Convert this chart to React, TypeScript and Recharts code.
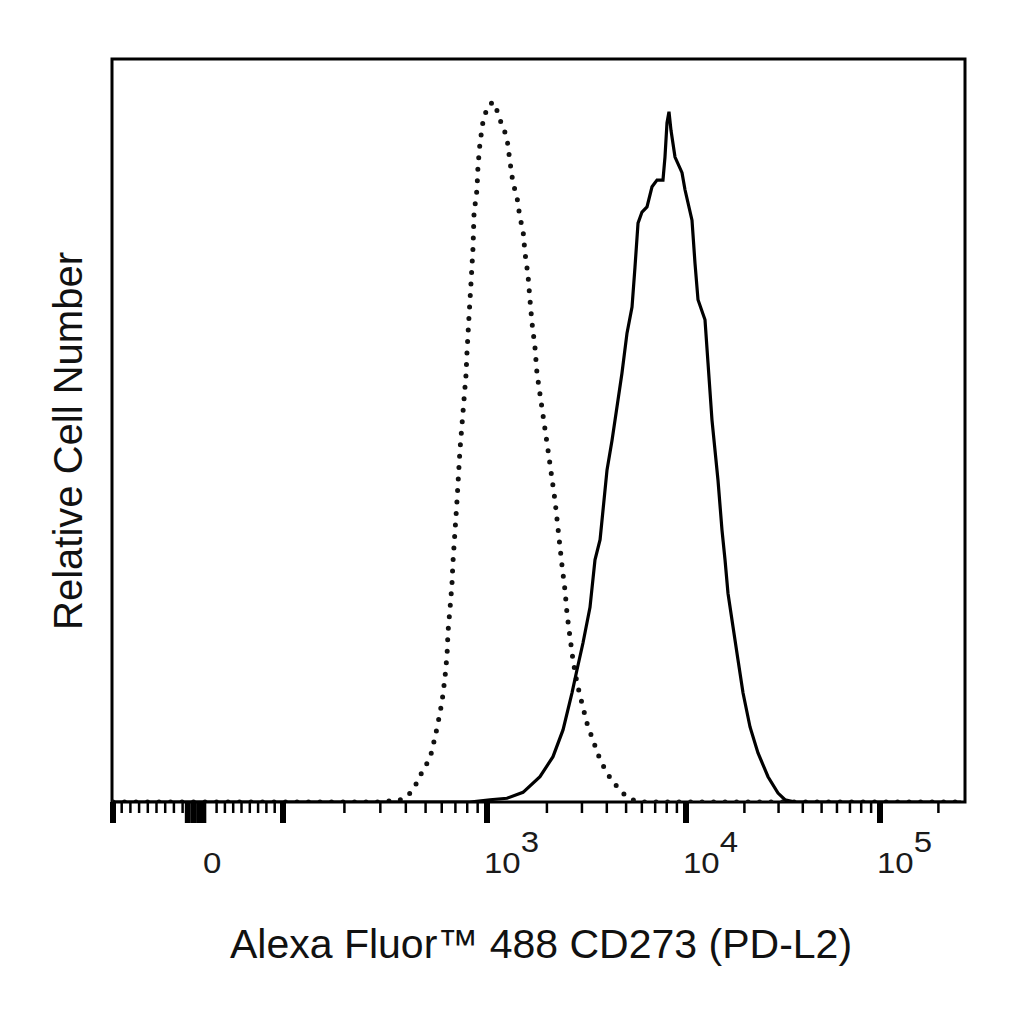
import React from "react"
import { LineChart, Line, XAxis, YAxis, ReferenceArea } from "recharts"

// ── Data ─────────────────────────────────────────────────────────────────────
// x values are fluorescence intensities, y is relative cell number (% of max)

const ISOTYPE_VALUE = [
  -100, 299, 374, 396, 434, 486, 526, 556, 575, 602,
  622, 637, 644, 659, 673, 681, 713, 737, 789, 798,
  816, 835, 854, 864, 893, 903, 924, 955, 1000, 1035,
  1097, 1136, 1204, 1260, 1305, 1351, 1415, 1465, 1517, 1552,
  1607, 1644, 1683, 1742, 1783, 2025, 2196, 2380, 2466, 2523,
  2612, 2705, 2833, 3000, 3180, 3410, 3700, 4010, 4300, 4660,
  5110, 5870, 262144,
]
const ISOTYPE_COUNT = [
  0, 0, 0.3, 0.5, 1.6, 4.3, 5.9, 8.7, 10.6, 13.5,
  16.7, 19.8, 22.9, 26.1, 29.2, 32.3, 40.6, 47.4, 57.5, 60.6,
  65.3, 69.9, 74.6, 79.3, 82.4, 85.5, 88.7, 91.5, 93.4, 94.0,
  94.1, 92.5, 90.8, 89.4, 86.1, 83.3, 81.4, 78.6, 77.0, 73.9,
  70.9, 67.6, 64.5, 61.2, 57.7, 47.4, 40.6, 31.9, 28.5, 25.4,
  22.2, 19.1, 16.0, 13.3, 10.6, 8.3, 5.7, 3.9, 2.7, 1.6,
  0.5, 0, 0,
]

const CD273_VALUE = [
  -100, 825, 1035, 1260, 1517, 1846, 2146, 2410, 2674, 2833,
  3036, 3293, 3489, 3700, 4010, 4250, 4553, 4766, 5053, 5355,
  5542, 5740, 6010, 6368, 6748, 7150, 7661, 7841, 8025, 8213,
  8406, 8805, 9548, 9886, 10737, 11128, 11531, 12530, 12984, 13614,
  14620, 15330, 15890, 16460, 17470, 18540, 19670, 21380, 23500, 26470,
  29800, 32380, 36460, 262144,
]
const CD273_COUNT = [
  0, 0, 0.3, 0.5, 1.3, 3.4, 6.1, 9.7, 14.7, 17.8,
  21.4, 26.2, 32.6, 35.3, 44.7, 48.7, 54.1, 57.7, 63.1, 66.6,
  72.0, 77.9, 79.4, 80.1, 82.8, 83.7, 83.7, 86.8, 91.4, 92.9,
  90.4, 86.8, 84.7, 82.4, 78.3, 72.5, 67.6, 64.9, 59.1, 51.4,
  43.3, 36.6, 32.6, 28.1, 23.6, 19.1, 14.7, 10.1, 6.6, 3.4,
  1.2, 0.3, 0, 0,
]

// ── Biexponential-ish display transform (linear near 0, log above 100) ─────

const BIEX_VALUE = [-100, 0, 100, 1000, 10000, 100000, 1000000]
const BIEX_UNIT = [0, 87, 170, 374, 573, 767, 961]

function biex(v: number): number {
  let i = 0
  while (i < BIEX_VALUE.length - 2 && v > BIEX_VALUE[i + 1]) i++
  const a = BIEX_VALUE[i]
  const b = BIEX_VALUE[i + 1]
  const t = a >= 100 ? Math.log(v / a) / Math.log(b / a) : (v - a) / (b - a)
  return BIEX_UNIT[i] + t * (BIEX_UNIT[i + 1] - BIEX_UNIT[i])
}

const X_DOMAIN = [-1, 852]

// ── Ticks ───────────────────────────────────────────────────────────────────

const MAJOR_TICKS = [-100, -14, -7, 0, 4, 100, 1000, 10000, 100000]
const MINOR_TICKS = [
  -90, -80, -70, -60, -50, -40, -30, -20,
  20, 30, 40, 50, 60, 70, 80, 90,
  200, 300, 400, 500, 600, 700, 800, 900,
  2000, 3000, 4000, 5000, 6000, 7000, 8000, 9000,
  20000, 30000, 40000, 50000, 60000, 70000, 80000, 90000,
  200000,
]
const LABEL_TICKS = [0, 1000, 10000, 100000]
const LABEL_TEXT = ["0", "3", "4", "5"]

type TickDef = { value: number; kind: "major" | "minor" | "label"; label?: string }

const TICKS: TickDef[] = [
  ...MAJOR_TICKS.map((v) => ({ value: v, kind: "major" as const })),
  ...MINOR_TICKS.map((v) => ({ value: v, kind: "minor" as const })),
  ...LABEL_TICKS.map((v, i) => ({ value: v, kind: "label" as const, label: LABEL_TEXT[i] })),
]

const FONT = "'Liberation Sans', Arial, Helvetica, sans-serif"

function BiexTick(props: any) {
  const { x, y, index } = props
  const t = TICKS[index]
  if (!t) return null
  if (t.kind === "major") {
    return <line x1={x} x2={x} y1={y} y2={y + 21} stroke="#000" strokeWidth={6} />
  }
  if (t.kind === "minor") {
    return <line x1={x} x2={x} y1={y} y2={y + 11} stroke="#000" strokeWidth={2.5} />
  }
  if (t.label === "0") {
    return (
      <g transform={`translate(${x + 3},${y + 71}) scale(1.1,1)`}>
        <text fontFamily={FONT} fontSize={30} fill="#1a1a1a">0</text>
      </g>
    )
  }
  return (
    <g transform={`translate(${x - 3},${y + 71}) scale(1.1,1)`}>
      <text fontFamily={FONT} fontSize={30} fill="#1a1a1a">
        10<tspan dy={-21}>{t.label}</tspan>
      </text>
    </g>
  )
}

const isotypeData = ISOTYPE_VALUE.map((v, i) => ({ x: biex(v), count: ISOTYPE_COUNT[i] }))
const cd273Data = CD273_VALUE.map((v, i) => ({ x: biex(v), count: CD273_COUNT[i] }))

export default function App() {
  return (
    <div style={{ position: "absolute", left: 0, top: 0, width: 1024, height: 1024, background: "#fff" }}>
      <LineChart
        width={1024}
        height={1024}
        margin={{ top: 59, right: 59, bottom: 221, left: 112 }}
      >
        <XAxis
          type="number"
          dataKey="x"
          domain={X_DOMAIN}
          allowDataOverflow
          ticks={TICKS.map((t) => biex(t.value))}
          interval={0}
          tick={<BiexTick />}
          tickSize={0}
          tickMargin={0}
          tickLine={false}
          axisLine={false}
          height={1}
        />
        <YAxis hide type="number" domain={[0, 100]} allowDataOverflow />
        <ReferenceArea
          x1={X_DOMAIN[0]}
          x2={X_DOMAIN[1]}
          y1={0}
          y2={100}
          fill="none"
          stroke="#000"
          strokeWidth={3}
          ifOverflow="visible"
        />
        <Line
          data={isotypeData}
          dataKey="count"
          type="linear"
          stroke="#111"
          strokeWidth={5}
          strokeDasharray="0 11.5"
          strokeLinecap="round"
          dot={false}
          activeDot={false}
          isAnimationActive={false}
        />
        <Line
          data={cd273Data}
          dataKey="count"
          type="linear"
          stroke="#000"
          strokeWidth={3.2}
          dot={false}
          activeDot={false}
          isAnimationActive={false}
        />
      </LineChart>
      <svg
        width={1024}
        height={1024}
        style={{ position: "absolute", left: 0, top: 0, pointerEvents: "none" }}
      >
        <text
          transform="translate(82,441) rotate(-90)"
          textAnchor="middle"
          fontFamily={FONT}
          fontSize={40}
          fill="#111"
        >
          Relative Cell Number
        </text>
        <text x={541} y={958} textAnchor="middle" fontFamily={FONT} fontSize={41} fill="#111">
          Alexa Fluor™ 488 CD273 (PD-L2)
        </text>
      </svg>
    </div>
  )
}
